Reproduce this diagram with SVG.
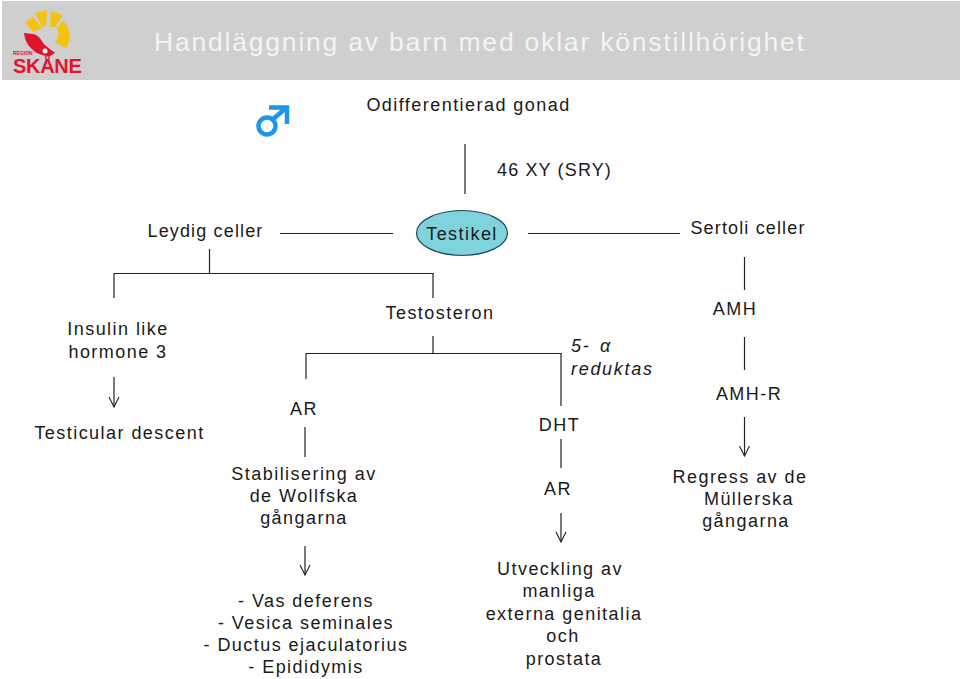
<svg xmlns="http://www.w3.org/2000/svg" width="960" height="679" viewBox="0 0 960 679">
<defs>
<style>
text{font-family:"Liberation Sans",Arial,sans-serif;font-size:18px;fill:#1a1a1a;letter-spacing:1.45px}
.m{text-anchor:middle}
.n{letter-spacing:1.15px}
.i{font-style:italic;letter-spacing:1.7px}
.y{fill:#f2c40f}
.r{fill:#e2142d}
.c line,.c polyline{stroke:#222;stroke-width:1.2;fill:none}
</style>
<marker id="a" markerWidth="12" markerHeight="12" refX="11" refY="6" orient="auto" markerUnits="userSpaceOnUse" viewBox="0 0 12 12"><path d="M1 1L11 6L1 11" fill="none" stroke="#222" stroke-width="1.1"/></marker>
</defs>
<rect width="960" height="679" fill="#fff"/>
<g id="header">
<rect x="2" y="1" width="958" height="79" fill="#cfcfcf"/>
<text x="154" y="51" style="font-size:26.5px;fill:#f4f4f4;letter-spacing:1.8px">Handläggning av barn med oklar könstillhörighet</text>
</g>
<g id="logo">
<path class="y" d="M25 22L33 17L42 28L33 32Z"/>
<path class="y" d="M35 13L47 10L46 26L42 27Z"/>
<path class="y" d="M51 11L63 15L55 27L50 27Z"/>
<path class="y" d="M63 21C69 26 71 35 69 42C68 45 67 47 65 48L55 42C58 39 60 34 57 28Z"/>
<path class="r" d="M24 33L33 34C38 35 41 39 44 44C48 48 52 50 55 53L50 56C44 56 37 54 33 50C27 45 25 40 24 33Z"/>
<circle cx="45" cy="51" r="2.500" fill="#fff"/>
<text x="13" y="54.500" class="r" style="font-size:5px;font-weight:700;letter-spacing:0">REGION</text>
<text x="13" y="73" class="r" style="font-size:20px;font-weight:700;letter-spacing:-0.3px">SKÅNE</text>
</g>
<g id="male-symbol" fill="none" stroke="#1b96e8" stroke-width="4.500">
<circle cx="267" cy="126" r="8.500"/>
<path d="M272 120L286 108M269 107.500H287V124"/>
</g>
<g id="connectors" class="c">
<line x1="465" y1="144" x2="465" y2="194"/>
<line x1="280" y1="233.500" x2="393" y2="233.500"/>
<line x1="528" y1="233.500" x2="680" y2="233.500"/>
<line x1="209.500" y1="249" x2="209.500" y2="273"/>
<polyline points="114,298 114,273.500 433,273.500 433,298"/>
<line x1="744.500" y1="257" x2="744.500" y2="290"/>
<line x1="433" y1="336" x2="433" y2="353"/>
<polyline points="306,379 306,353.500 561,353.500 561,406"/>
<line x1="744.500" y1="337" x2="744.500" y2="370"/>
<line x1="114" y1="377" x2="114" y2="407" marker-end="url(#a)"/>
<line x1="305" y1="427" x2="305" y2="457"/>
<line x1="561" y1="439" x2="561" y2="468"/>
<line x1="744.500" y1="417" x2="744.500" y2="456" marker-end="url(#a)"/>
<line x1="561" y1="513" x2="561" y2="542" marker-end="url(#a)"/>
<line x1="305" y1="546" x2="305" y2="575" marker-end="url(#a)"/>
</g>
<g id="odifferentierad"><text x="468.500" y="111" class="m">Odifferentierad gonad</text></g>
<g id="xy"><text x="554.500" y="176" class="m n">46 XY (SRY)</text></g>
<g id="leydig"><text x="205.500" y="237" class="m n">Leydig celler</text></g>
<g id="testikel"><ellipse cx="462" cy="233" rx="45.500" ry="22.500" fill="#7fd3dd" stroke="#1f4a56" stroke-width="1.200"/><text x="462" y="240" class="m">Testikel</text></g>
<g id="sertoli"><text x="748" y="234" class="m n">Sertoli celler</text></g>
<g id="insulin"><text x="118" y="335" class="m">Insulin like</text><text x="118" y="358" class="m">hormone 3</text></g>
<g id="testicular"><text x="119.500" y="439" class="m">Testicular descent</text></g>
<g id="testosteron"><text x="440" y="319" class="m">Testosteron</text></g>
<g id="ar1"><text x="304" y="415" class="m">AR</text></g>
<g id="reduktas"><text y="352" class="i"><tspan x="571">5-</tspan><tspan x="600">α</tspan></text><text x="571" y="375" class="i">reduktas</text></g>
<g id="dht"><text x="559.500" y="431" class="m">DHT</text></g>
<g id="amh"><text x="735" y="315" class="m">AMH</text></g>
<g id="amhr"><text x="749" y="400" class="m">AMH-R</text></g>
<g id="stabilisering"><text x="304" y="480" class="m">Stabilisering av</text><text x="304" y="502" class="m">de Wollfska</text><text x="304" y="524" class="m">gångarna</text></g>
<g id="ar2"><text x="558" y="495" class="m">AR</text></g>
<g id="regress"><text x="740" y="483" class="m">Regress av de</text><text x="749" y="505" class="m">Müllerska</text><text x="746" y="527" class="m">gångarna</text></g>
<g id="vas"><text x="306" y="607" class="m">- Vas deferens</text><text x="306" y="629" class="m">- Vesica seminales</text><text x="306" y="651" class="m">- Ductus ejaculatorius</text><text x="306" y="673" class="m">- Epididymis</text></g>
<g id="utveckling"><text x="560" y="575" class="m">Utveckling av</text><text x="559" y="597" class="m">manliga</text><text x="564" y="620" class="m">externa genitalia</text><text x="563" y="642" class="m">och</text><text x="564" y="665" class="m">prostata</text></g>
</svg>
